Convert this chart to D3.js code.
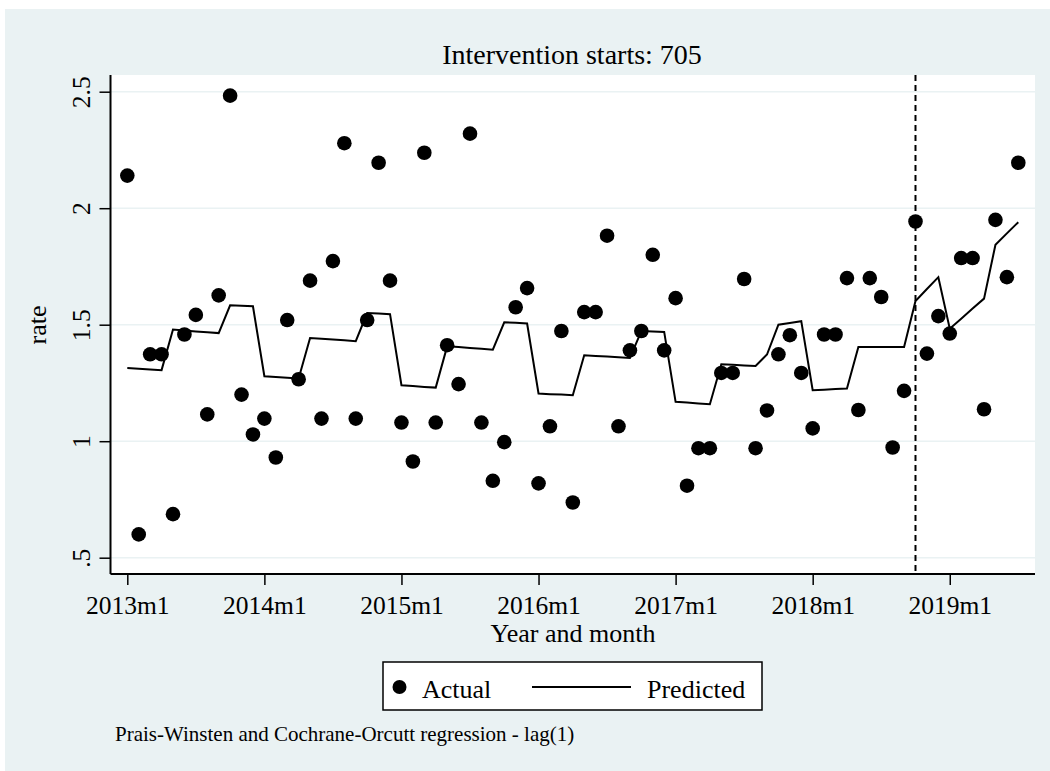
<!DOCTYPE html>
<html>
<head>
<meta charset="utf-8">
<script src="https://cdn.jsdelivr.net/npm/d3@7"></script>
<style>
  html, body { margin: 0; padding: 0; background: #ffffff; }
  svg { display: block; }
  text { font-family: "Liberation Serif", "Times New Roman", serif; fill: #000; }
</style>
</head>
<body>
<svg id="chart" width="1050" height="771"></svg>
<script>
// Stata monthly dates: 636 = 2013m1 ... 714 = 2019m7
const months = d3.range(636, 715);
const tickMonths = [636, 648, 660, 672, 684, 696, 708];
const tickMonthLabels = ["2013m1", "2014m1", "2015m1", "2016m1", "2017m1", "2018m1", "2019m1"];
const yTicks = [0.5, 1, 1.5, 2, 2.5];
const yTickLabels = [".5", "1", "1.5", "2", "2.5"];
const interventionMonth = 705;

const actual = [
  2.140, 0.600, 1.373, 1.373, 0.687, 1.458, 1.542, 1.115, 1.626, 2.483, 1.200, 1.029,
  1.097, 0.930, 1.520, 1.266, 1.689, 1.097, 1.773, 2.279, 1.097, 1.520, 2.195, 1.689,
  1.080, 0.913, 2.238, 1.080, 1.412, 1.245, 2.320, 1.080, 0.830, 0.996, 1.575, 1.657,
  0.819, 1.064, 1.473, 0.737, 1.554, 1.554, 1.882, 1.064, 1.390, 1.473, 1.800, 1.390,
  1.614, 0.809, 0.970, 0.970, 1.293, 1.293, 1.696, 0.970, 1.132, 1.373, 1.455, 1.293,
  1.055, 1.458, 1.458, 1.700, 1.134, 1.700, 1.619, 0.973, 1.216, 1.943, 1.376, 1.537,
  1.462, 1.786, 1.786, 1.137, 1.950, 1.704, 2.195
];

const predicted = [
  1.314, 1.311, 1.308, 1.305, 1.479, 1.475, 1.471, 1.468, 1.464, 1.583, 1.581, 1.579,
  1.279, 1.276, 1.272, 1.269, 1.443, 1.440, 1.436, 1.433, 1.429, 1.550, 1.548, 1.545,
  1.240, 1.237, 1.233, 1.230, 1.407, 1.404, 1.400, 1.397, 1.393, 1.510, 1.508, 1.505,
  1.205, 1.202, 1.200, 1.197, 1.369, 1.366, 1.363, 1.360, 1.357, 1.473, 1.471, 1.469,
  1.169, 1.166, 1.162, 1.159, 1.330, 1.328, 1.325, 1.323, 1.372, 1.500, 1.507, 1.515,
  1.219, 1.221, 1.224, 1.226, 1.404, 1.404, 1.404, 1.404, 1.404, 1.602, 1.653, 1.704,
  1.483, 1.526, 1.569, 1.612, 1.843, 1.892, 1.940
];

const titleText = "Intervention starts: 705";
const xTitle = "Year and month";
const yTitle = "rate";
const noteText = "Prais-Winsten and Cochrane-Orcutt regression - lag(1)";
const legendLabels = ["Actual", "Predicted"];

const svg = d3.select("#chart");
const bg = "#eaf2f3";

// graph region
svg.append("rect").attr("x", 5).attr("y", 9).attr("width", 1045).attr("height", 762).attr("fill", bg);

// plot region
const plot = { left: 110.5, right: 1035, top: 75, bottom: 574 };
svg.append("rect")
  .attr("x", plot.left).attr("y", plot.top)
  .attr("width", plot.right - plot.left).attr("height", plot.bottom - plot.top)
  .attr("fill", "#ffffff");

const x = d3.scaleLinear().domain([636, 714]).range([127.3, 1018.3]);
const y = d3.scaleLinear().domain([0.5, 2.5]).range([557.7, 91.7]);

// gridlines
svg.append("g").selectAll("line").data(yTicks).join("line")
  .attr("x1", plot.left).attr("x2", plot.right)
  .attr("y1", d => y(d)).attr("y2", d => y(d))
  .attr("stroke", bg).attr("stroke-width", 1.5);

// intervention line
svg.append("line")
  .attr("x1", x(interventionMonth)).attr("x2", x(interventionMonth))
  .attr("y1", plot.top).attr("y2", plot.bottom)
  .attr("stroke", "#000").attr("stroke-width", 2)
  .attr("stroke-dasharray", "6,4");

// predicted line
const line = d3.line().x((d, i) => x(months[i])).y(d => y(d));
svg.append("path").datum(predicted)
  .attr("d", line).attr("fill", "none")
  .attr("stroke", "#000").attr("stroke-width", 2).attr("stroke-linejoin", "miter");

// actual points
svg.append("g").selectAll("circle").data(actual).join("circle")
  .attr("cx", (d, i) => x(months[i])).attr("cy", d => y(d))
  .attr("r", 7.3).attr("fill", "#000");

// x axis
const xAxis = d3.axisBottom(x).tickValues(tickMonths)
  .tickFormat((d, i) => tickMonthLabels[i]).tickSize(11).tickPadding(6);
const gx = svg.append("g").attr("transform", `translate(0,${plot.bottom})`).call(xAxis);
gx.select(".domain").attr("d", `M${plot.left},0H${plot.right}`).attr("stroke", "#000").attr("stroke-width", 2);
gx.selectAll(".tick line").attr("stroke", "#000").attr("stroke-width", 1.5);
gx.selectAll(".tick text").attr("font-family", "Liberation Serif, Times New Roman, serif")
  .attr("font-size", 25.5).attr("dy", null).attr("y", 40);

// y axis
const yAxis = d3.axisLeft(y).tickValues(yTicks)
  .tickFormat((d, i) => yTickLabels[i]).tickSize(11).tickPadding(6);
const gy = svg.append("g").attr("transform", `translate(${plot.left},0)`).call(yAxis);
gy.select(".domain").attr("d", `M0,${plot.top}V${plot.bottom}`).attr("stroke", "#000").attr("stroke-width", 2);
gy.selectAll(".tick line").attr("stroke", "#000").attr("stroke-width", 1.5);
gy.selectAll(".tick text")
  .attr("font-family", "Liberation Serif, Times New Roman, serif")
  .attr("font-size", 25.5)
  .attr("text-anchor", "middle")
  .attr("x", null).attr("dy", null)
  .attr("transform", "translate(-21,0) rotate(-90)");

// titles
svg.append("text").attr("x", 572).attr("y", 63.5).attr("text-anchor", "middle")
  .attr("font-size", 28).text(titleText);
svg.append("text").attr("x", 573).attr("y", 642).attr("text-anchor", "middle")
  .attr("font-size", 26).text(xTitle);
svg.append("text").attr("transform", "translate(46,325) rotate(-90)").attr("text-anchor", "middle")
  .attr("font-size", 26).text(yTitle);

// legend
const lg = svg.append("g");
lg.append("rect").attr("x", 383).attr("y", 662).attr("width", 379).attr("height", 48)
  .attr("fill", "#fff").attr("stroke", "#000").attr("stroke-width", 1.5);
lg.append("circle").attr("cx", 399.5).attr("cy", 687).attr("r", 7).attr("fill", "#000");
lg.append("text").attr("x", 422).attr("y", 697.5).attr("font-size", 26).text(legendLabels[0]);
lg.append("line").attr("x1", 532).attr("x2", 631).attr("y1", 687).attr("y2", 687)
  .attr("stroke", "#000").attr("stroke-width", 2);
lg.append("text").attr("x", 647).attr("y", 697.5).attr("font-size", 26).text(legendLabels[1]);

// note
svg.append("text").attr("x", 115).attr("y", 741).attr("font-size", 21).text(noteText);
</script>
</body>
</html>
